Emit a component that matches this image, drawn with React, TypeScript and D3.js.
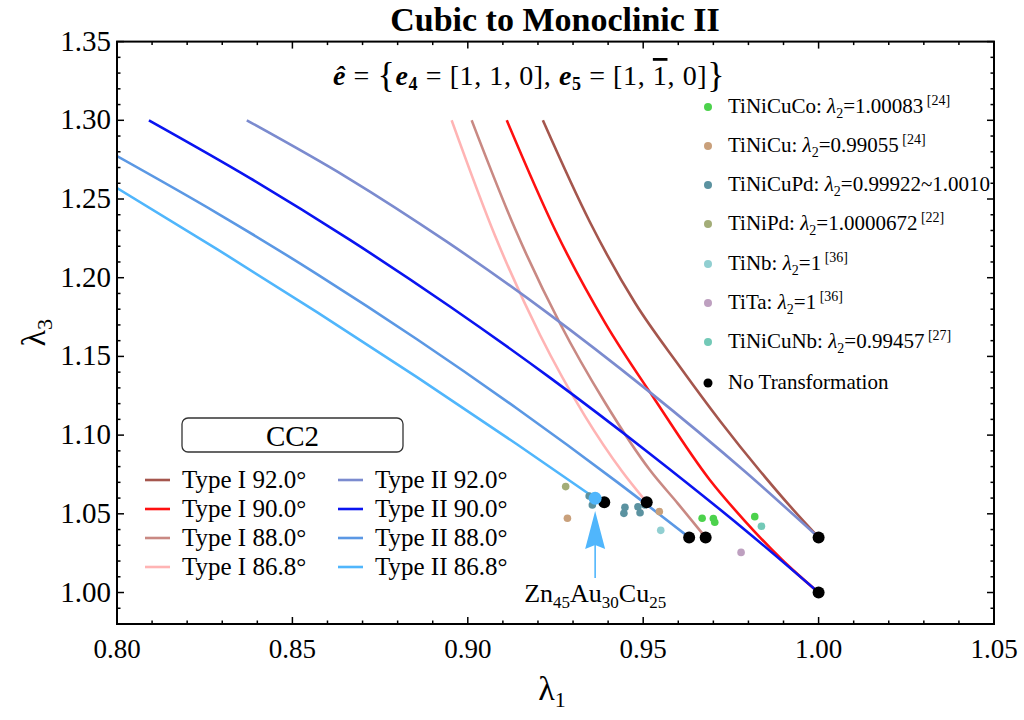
import React from "react";
import * as d3 from "d3";

// curves: lambda1 (x) and lambda3 (y)
const typeI92X = [0.9214, 0.9348, 0.9477, 0.9605, 0.9719, 0.9833, 0.9918, 1.0];
const typeI92Y = [1.30, 1.2354, 1.1839, 1.1433, 1.1090, 1.0772, 1.0550, 1.035];
const typeI90X = [0.9111, 0.9249, 0.9391, 0.9534, 0.9690, 0.9790, 0.9895, 1.0];
const typeI90Y = [1.30, 1.2303, 1.1715, 1.1223, 1.0715, 1.0454, 1.0210, 1.0];
const typeI88X = [0.9011, 0.9135, 0.9263, 0.9391, 0.9519, 0.9599, 0.9678];
const typeI88Y = [1.30, 1.2309, 1.1709, 1.1207, 1.0778, 1.0565, 1.035];
const typeI868X = [0.8954, 0.9078, 0.9206, 0.9334, 0.9439, 0.9510];
const typeI868Y = [1.30, 1.2265, 1.1636, 1.1121, 1.0772, 1.0573];
const typeII92X = [0.8370, 0.8655, 0.8940, 0.9225, 0.9510, 0.9795, 1.0];
const typeII92Y = [1.30, 1.2638, 1.2229, 1.1780, 1.1289, 1.0759, 1.035];
const typeII90X = [0.8091, 0.8379, 0.8664, 0.8949, 0.9234, 0.9519, 0.9804, 1.0];
const typeII90Y = [1.30, 1.2633, 1.2240, 1.1817, 1.1365, 1.0882, 1.0372, 1.0];
const typeII88X = [0.80, 0.8285, 0.8570, 0.8855, 0.9140, 0.9425, 0.9631];
const typeII88Y = [1.2773, 1.2411, 1.2023, 1.1609, 1.1169, 1.0703, 1.035];
const typeII868X = [0.80, 0.8285, 0.8570, 0.8855, 0.9140, 0.9363];
const typeII868Y = [1.2570, 1.2182, 1.1781, 1.1368, 1.0942, 1.0599];

const curveNames = ["Type I 92.0°", "Type I 90.0°", "Type I 88.0°", "Type I 86.8°",
  "Type II 92.0°", "Type II 90.0°", "Type II 88.0°", "Type II 86.8°"];
const curveColors = ["#a5564d", "#ff1010", "#c98983", "#ffb4b4",
  "#7b8bcf", "#0a14f0", "#5b98e4", "#50b6fc"];
const curveXs = [typeI92X, typeI90X, typeI88X, typeI868X, typeII92X, typeII90X, typeII88X, typeII868X];
const curveYs = [typeI92Y, typeI90Y, typeI88Y, typeI868Y, typeII92Y, typeII90Y, typeII88Y, typeII868Y];

// experimental points
const tiNiCuCoX = [0.9668, 0.9700, 0.9704, 0.9818];
const tiNiCuCoY = [1.0472, 1.0470, 1.0446, 1.0482];
const tiNiCuX = [0.9284, 0.9546];
const tiNiCuY = [1.0472, 1.0514];
const tiNiCuPdX = [0.9346, 0.9355, 0.9448, 0.9445, 0.9485, 0.9491, 0.9505];
const tiNiCuPdY = [1.0613, 1.0556, 1.0541, 1.0503, 1.0545, 1.0507, 1.0556];
const tiNiPdX = [0.9279];
const tiNiPdY = [1.0673];
const tiNbX = [0.9550];
const tiNbY = [1.0395];
const tiTaX = [0.9779];
const tiTaY = [1.0255];
const tiNiCuNbX = [0.9837];
const tiNiCuNbY = [1.0421];
const noTransX = [1.0, 1.0, 0.9678, 0.9631, 0.9510, 0.9389];
const noTransY = [1.0, 1.035, 1.035, 1.035, 1.0573, 1.0573];
const znAuCuX = 0.9363;
const znAuCuY = 1.0599;

const alloyNames = ["TiNiCuCo", "TiNiCu", "TiNiCuPd", "TiNiPd", "TiNb", "TiTa", "TiNiCuNb", "No Transformation"];
const alloyLambda2 = ["1.00083", "0.99055", "0.99922~1.0010", "1.0000672", "1", "1", "0.99457", ""];
const alloyRefs = ["[24]", "[24]", "", "[22]", "[36]", "[36]", "[27]", ""];
const alloyColors = ["#4cd24c", "#c9a07b", "#5b92a0", "#a3ad78", "#91cfd1", "#bea0c0", "#73c9b7", "#000000"];
const alloyXs = [tiNiCuCoX, tiNiCuX, tiNiCuPdX, tiNiPdX, tiNbX, tiTaX, tiNiCuNbX, noTransX];
const alloyYs = [tiNiCuCoY, tiNiCuY, tiNiCuPdY, tiNiPdY, tiNbY, tiTaY, tiNiCuNbY, noTransY];

const xTicks = [0.80, 0.85, 0.90, 0.95, 1.00, 1.05];
const yTicks = [1.00, 1.05, 1.10, 1.15, 1.20, 1.25, 1.30, 1.35];

const font = "'Liberation Serif', 'Times New Roman', serif";

export default function App() {
  const left = 117, right = 994, top = 41.6, bottom = 624;
  const x = d3.scaleLinear().domain([0.8, 1.05]).range([left, right]);
  const y = d3.scaleLinear().domain([0.98, 1.35]).range([bottom, top]);

  const line = d3.line<[number, number]>()
    .x(d => x(d[0]))
    .y(d => y(d[1]))
    .curve(d3.curveMonotoneX);

  const minorX = d3.range(0, 26).map(i => 0.8 + i * 0.01);
  const minorY = d3.range(0, 38).map(i => 0.98 + i * 0.01);

  const legendRowsY = [107, 146, 185, 224, 264, 303, 342, 383];
  const ccRowsY = [480, 509, 538, 567];
  const ax = x(znAuCuX);

  return (
    <svg width={1024} height={720} style={{ position: "absolute", left: 0, top: 0 }} fontFamily={font}>
      <rect width={1024} height={720} fill="#fff" />
      <defs>
        <clipPath id="plotArea">
          <rect x={left} y={top} width={right - left} height={bottom - top} />
        </clipPath>
      </defs>

      <text x={555} y={31} textAnchor="middle" fontSize={34} fontWeight="bold">Cubic to Monoclinic II</text>

      {/* curves */}
      <g clipPath="url(#plotArea)">
        {curveNames.map((name, i) => (
          <path key={name}
            d={line(curveXs[i].map((v, j) => [v, curveYs[i][j]] as [number, number])) || ""}
            fill="none" stroke={curveColors[i]} strokeWidth={2.6} />
        ))}
      </g>

      {/* points */}
      {alloyNames.map((name, i) => alloyXs[i].map((v, j) => (
        <circle key={name + j} cx={x(v)} cy={y(alloyYs[i][j])}
          r={i === 7 ? 6 : 3.8} fill={alloyColors[i]} />
      )))}
      <circle cx={ax} cy={y(znAuCuY)} r={6.5} fill="#50b6fc" />

      {/* arrow */}
      <line x1={ax} x2={ax} y1={578} y2={540} stroke="#50b6fc" strokeWidth={1.6} />
      <path d={`M${ax},511 L${ax - 10},549 L${ax},545 L${ax + 10},549 Z`} fill="#50b6fc" />
      <text x={ax} y={602} textAnchor="middle" fontSize={26}>
        Zn<tspan fontSize={17} dy={6}>45</tspan><tspan dy={-6}>Au</tspan><tspan fontSize={17} dy={6}>30</tspan><tspan dy={-6}>Cu</tspan><tspan fontSize={17} dy={6}>25</tspan>
      </text>

      {/* formula */}
      <text x={529} y={85} textAnchor="middle" fontSize={28} letterSpacing={0.6}>
        <tspan fontWeight="bold" fontStyle="italic">ê</tspan>
        <tspan>{" = "}</tspan>
        <tspan fontSize={36} dy={2}>{"{"}</tspan>
        <tspan fontWeight="bold" fontStyle="italic" dy={-2}>e</tspan>
        <tspan fontWeight="bold" fontSize={18} dy={5}>4</tspan>
        <tspan dy={-5}>{" = [1, 1, 0], "}</tspan>
        <tspan fontWeight="bold" fontStyle="italic">e</tspan>
        <tspan fontWeight="bold" fontSize={18} dy={5}>5</tspan>
        <tspan dy={-5}>{" = [1, "}</tspan>
        <tspan style={{ textDecoration: "overline" }}>1</tspan>
        <tspan>{", 0]"}</tspan>
        <tspan fontSize={36} dy={2}>{"}"}</tspan>
      </text>

      {/* right legend */}
      <g clipPath="url(#plotArea)">
        {alloyNames.map((name, i) => (
          <g key={"lg" + name}>
            <circle cx={708} cy={legendRowsY[i]} r={i === 7 ? 4.5 : 4} fill={alloyColors[i]} />
            {i === 7 ? (
              <text x={728} y={legendRowsY[i] + 6} fontSize={21}>{name}</text>
            ) : (
              <text x={728} y={legendRowsY[i] + 6} fontSize={21}>
                {name + ": "}<tspan fontStyle="italic">λ</tspan><tspan fontSize={14} dy={5}>2</tspan><tspan dy={-5}>{"=" + alloyLambda2[i]}</tspan>
                {alloyRefs[i] ? <tspan fontSize={14} dy={-8}>{" " + alloyRefs[i]}</tspan> : null}
              </text>
            )}
          </g>
        ))}
      </g>

      {/* CC2 legend */}
      <rect x={182} y={418} width={221} height={34} rx={6} fill="#fff" stroke="#333" strokeWidth={1.3} />
      <text x={292.5} y={446} textAnchor="middle" fontSize={29}>CC2</text>
      {curveNames.map((name, i) => {
        const col = i < 4 ? 0 : 1;
        const ry = ccRowsY[i % 4];
        const lx = col === 0 ? 145 : 338;
        return (
          <g key={"cc" + name}>
            <line x1={lx} x2={lx + 25} y1={ry} y2={ry} stroke={curveColors[i]} strokeWidth={2.6} />
            <text x={lx + 37} y={ry + 8} fontSize={25}>{name}</text>
          </g>
        );
      })}

      {/* frame and ticks */}
      <rect x={left} y={top} width={right - left} height={bottom - top} fill="none" stroke="#000" strokeWidth={2} />
      {minorX.map((v, i) => {
        const major = i % 5 === 0;
        const len = major ? 7 : 3.5;
        return (
          <g key={"mx" + i}>
            <line x1={x(v)} x2={x(v)} y1={bottom} y2={bottom - len} stroke="#000" strokeWidth={1.5} />
            <line x1={x(v)} x2={x(v)} y1={top} y2={top + len} stroke="#000" strokeWidth={1.5} />
          </g>
        );
      })}
      {minorY.map((v, i) => {
        const major = (i - 2) % 5 === 0;
        const len = major ? 7 : 3.5;
        return (
          <g key={"my" + i}>
            <line x1={left} x2={left + len} y1={y(v)} y2={y(v)} stroke="#000" strokeWidth={1.5} />
            <line x1={right} x2={right - len} y1={y(v)} y2={y(v)} stroke="#000" strokeWidth={1.5} />
          </g>
        );
      })}
      {xTicks.map(v => (
        <text key={"xt" + v} x={x(v)} y={658} textAnchor="middle" fontSize={27}>{d3.format(".2f")(v)}</text>
      ))}
      {yTicks.map(v => (
        <text key={"yt" + v} x={111} y={y(v) + 9} textAnchor="end" fontSize={29}>{d3.format(".2f")(v)}</text>
      ))}

      {/* axis labels */}
      <text x={552} y={700} textAnchor="middle" fontSize={34}>
        λ<tspan fontSize={22} dy={7}>1</tspan>
      </text>
      <text transform={`translate(45, ${(top + bottom) / 2}) rotate(-90)`} textAnchor="middle" fontSize={34}>
        λ<tspan fontSize={22} dy={7}>3</tspan>
      </text>
    </svg>
  );
}
